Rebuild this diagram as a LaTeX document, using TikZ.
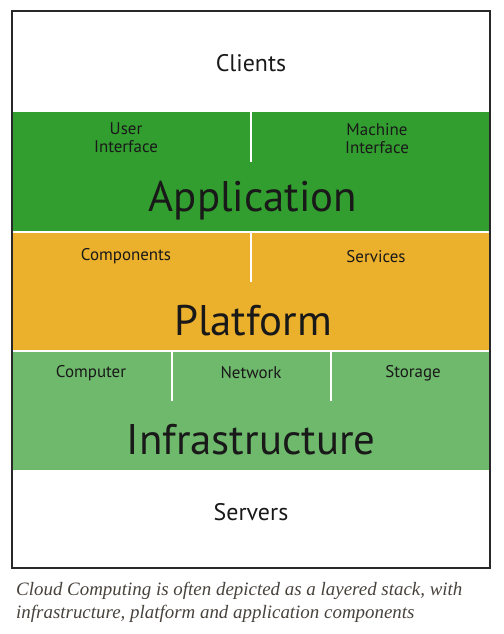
\documentclass[tikz,border=0pt]{standalone}
\usepackage{fontspec}
\setmainfont{PT Sans}
\newfontfamily\capfont{Liberation Serif}
\definecolor{appgreen}{RGB}{51,158,48}
\definecolor{platorange}{RGB}{236,177,44}
\definecolor{infragreen}{RGB}{111,185,108}
\definecolor{capgray}{RGB}{72,66,60}
\definecolor{framegray}{RGB}{40,40,40}
\tikzset{
	sep/.style={white,line width=1.5bp},
	small/.style={font=\fontsize{17}{18}\selectfont,align=center,text=black!90},
	mid/.style={font=\fontsize{24}{26}\selectfont,text=black!90},
	big/.style={font=\fontsize{43}{45}\selectfont,anchor=base,text=black!90}
}

\begin{document}
\begin{tikzpicture}[x=1bp,y=-1bp]
	\useasboundingbox (0,0) rectangle (504,634);
	
	%layers
	\fill[appgreen]   (13,112) rectangle (489,231);
	\fill[platorange] (13,233) rectangle (489,350);
	\fill[infragreen] (13,352) rectangle (489,470);
	\draw[framegray,line width=2bp] (12,11) rectangle (490,568);
	
	%separators
	\draw[sep] (251,112)--(251,162);
	\draw[sep] (251,233)--(251,282);
	\draw[sep] (172,352)--(172,401);
	\draw[sep] (331,352)--(331,401);
	
	%labels
	\node[mid] (clients) at (251,63) {Clients};
	\node[small] (ui) at (126,138) {User\\Interface};
	\node[small] (mi) at (377,139) {Machine\\Interface};
	\node[big] (app) at (253,211) {Application};
	\node[small] (comp) at (126,256) {Components};
	\node[small] (serv) at (376,257) {Services};
	\node[big] (plat) at (253,335) {Platform};
	\node[small] (computer) at (91,373) {Computer};
	\node[small] (net) at (251,373) {Network};
	\node[small] (stor) at (413,373) {Storage};
	\node[big] (infra) at (251,454) {Infrastructure};
	\node[mid] (servers) at (251,512) {Servers};
	
	%caption
	\node[anchor=base west,inner sep=0pt,align=left,text=capgray,
		font=\capfont\itshape\fontsize{19}{23}\selectfont] (cap) at (16,618)
		{Cloud Computing is often depicted as a layered stack, with\\
		infrastructure, platform and application components};
\end{tikzpicture}
\end{document}
